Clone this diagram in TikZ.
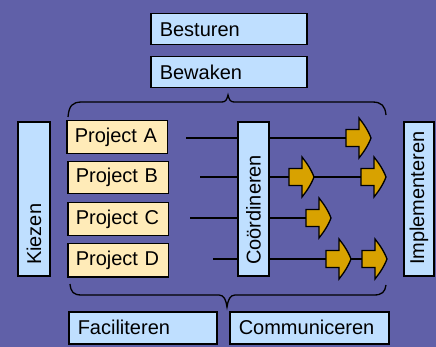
\documentclass[tikz,border=0pt]{standalone}
\usepackage{fontspec}
\setmainfont{Liberation Sans}
\definecolor{bg}{HTML}{6060A8}
\definecolor{boxblue}{HTML}{BFDFFF}
\definecolor{projyellow}{HTML}{FFEBB8}
\definecolor{arrowgold}{HTML}{D8A200}
\begin{document}
\begin{tikzpicture}[x=1pt,y=-1pt,
  every node/.style={font=\fontsize{20}{22}\selectfont, inner sep=0pt},
  box/.style={draw=black, line width=1.5pt, fill=boxblue, align=left,
    inner xsep=9pt, inner ysep=0pt, anchor=north west},
  projbox/.style={box, fill=projyellow, minimum height=33pt,
    inner xsep=8pt, text width=84.5pt},
  vbox/.style={draw=black, line width=1.5pt, fill=boxblue, align=left,
    inner xsep=11pt, inner ysep=0pt, rotate=90, anchor=center,
    minimum width=154pt, text width=132pt},
  flow/.style={line width=1.4pt, black},
  brace/.style={line width=1.3pt, black},
  fatarrow/.pic={
    \draw[line width=1.3pt, fill=arrowgold, line join=miter]
      (0,-8.5) -- (13,-8.5) -- (13,-20)
      .. controls (17,-15) and (22,-8) .. (25,0)
      .. controls (22,8) and (17,15) .. (13,20)
      -- (13,8.5) -- (0,8.5) -- cycle;
    \coordinate (-tail) at (0,0);
    \coordinate (-tip) at (25,0);
  }]
  \fill[bg] (0,0) rectangle (436,347);
  \useasboundingbox (0,0) rectangle (436,347);

  % braces above and below the project column
  \draw[brace] (68,117) .. controls (69,106) and (72,102) .. (82,102) -- (222,102)
    .. controls (226,102) and (227,99) .. (228,95)
    .. controls (229,99) and (230,102) .. (234,102) -- (372,102)
    .. controls (382,102) and (385,106) .. (386,115);
  \draw[brace] (70,284) .. controls (71,292) and (73,295) .. (82,295) -- (219,295)
    .. controls (224,295) and (226,300) .. (227,307)
    .. controls (228,300) and (230,295) .. (235,295) -- (374,295)
    .. controls (382,295) and (385,292) .. (386,285);

  % start points of the project flows
  \coordinate (sA) at (186,138);
  \coordinate (sB) at (200,177);
  \coordinate (sC) at (190,218);
  \coordinate (sD) at (213,259);

  % block arrows
  \pic (aA)  at (346,138) {fatarrow};
  \pic (aB1) at (289,177) {fatarrow};
  \pic (aB2) at (361,177) {fatarrow};
  \pic (aC)  at (306,218) {fatarrow};
  \pic (aD1) at (326,259) {fatarrow};
  \pic (aD2) at (362,259) {fatarrow};

  % flow lines between the arrows
  \draw[flow] (sA) -- (aA-tail);
  \draw[flow] (sB) -- (aB1-tail);
  \draw[flow] (aB1-tip) -- (aB2-tail);
  \draw[flow] (sC) -- (aC-tail);
  \draw[flow] (sD) -- (aD1-tail);
  \draw[flow] (aD1-tip) -- (aD2-tail);

  % top boxes
  \node[box, minimum height=31pt, text width=138pt] (besturen) at (150,13) {Besturen};
  \node[box, minimum height=31pt, text width=138pt] (bewaken) at (150,56) {Bewaken};

  % projects
  \node[projbox] (projA) at (66,120) {Project A};
  \node[projbox, minimum height=32pt] (projB) at (67,161) {Project B};
  \node[projbox] (projC) at (67,202) {Project C};
  \node[projbox] (projD) at (67,243) {Project D};

  % vertical boxes
  \node[vbox, minimum height=32pt] (kiezen) at (34,199) {Kiezen};
  \node[vbox, minimum height=31pt] (coord) at (253.5,199) {Coördineren};
  \node[vbox, minimum height=30pt] (impl) at (419,199) {Implementeren};

  % bottom boxes
  \node[box, minimum height=32pt, text width=130pt] (facil) at (68,311) {Faciliteren};
  \node[box, minimum height=32pt, text width=141pt] (commun) at (229,311) {Communiceren};
\end{tikzpicture}
\end{document}
